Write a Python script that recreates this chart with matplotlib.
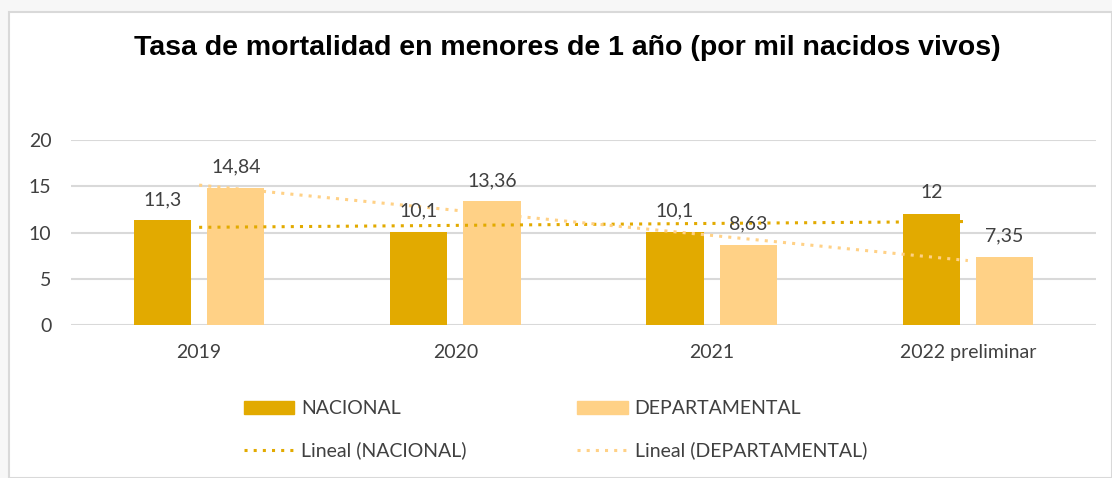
import numpy as np
import matplotlib
matplotlib.use("Agg")
import matplotlib.pyplot as plt
from matplotlib.patches import Rectangle, Patch
from matplotlib.lines import Line2D

categories = ["2019", "2020", "2021", "2022 preliminar"]
nacional = [11.3, 10.1, 10.1, 12]
departamental = [14.84, 13.36, 8.63, 7.35]
nacional_labels = ["11,3", "10,1", "10,1", "12"]
departamental_labels = ["14,84", "13,36", "8,63", "7,35"]
yticks = [0, 5, 10, 15, 20]

C_NAC = "#E2AA00"
C_DEP = "#FFD186"
TXT = "#404040"
FONT = "Lato"
FS = 14

W, H = 1112, 478
fig = plt.figure(figsize=(W / 100, H / 100), dpi=100)
fig.patch.set_facecolor("#F7F7F7")
fig.patches.append(Rectangle((9 / W, 0), 1 - 9 / W, 1 - 12 / H, transform=fig.transFigure,
                             facecolor="white", edgecolor="#D9D9D9", linewidth=1.5, zorder=-5))

ax = fig.add_axes([71 / W, 1 - 325 / H, 1025 / W, 185 / H])
ax.set_zorder(2)
ax.set_facecolor("none")
x = np.arange(len(categories))
bw = 0.223
off = 0.143
ax.bar(x - off, nacional, bw, color=C_NAC, zorder=3)
ax.bar(x + off, departamental, bw, color=C_DEP, zorder=3)

for xi, v, lab in zip(x - off, nacional, nacional_labels):
    ax.annotate(lab, (xi, v), xytext=(0, 9), textcoords="offset points", ha="center", va="bottom",
                fontsize=FS, color=TXT, family=FONT, zorder=5)
for xi, v, lab in zip(x + off, departamental, departamental_labels):
    ax.annotate(lab, (xi, v), xytext=(0, 9), textcoords="offset points", ha="center", va="bottom",
                fontsize=FS, color=TXT, family=FONT, zorder=5)

pn = np.polyfit(x, nacional, 1)
pd_ = np.polyfit(x, departamental, 1)
ax.plot(x, np.polyval(pn, x), linestyle=(0, (1, 2)), color=C_NAC, linewidth=2.2, zorder=4)
ax.plot(x, np.polyval(pd_, x), linestyle=(0, (1, 2)), color=C_DEP, linewidth=2.2, zorder=4)

ax.set_xlim(-0.5, 3.5)
ax.set_ylim(0, 20)
ax.set_yticks(yticks)
ax.set_yticklabels([str(t) for t in yticks], fontsize=FS, color=TXT, family=FONT)
ax.set_xticks(x)
ax.set_xticklabels(categories, fontsize=FS, color=TXT, family=FONT)
ax.tick_params(length=0, pad=14, axis="y")
ax.tick_params(length=0, pad=14, axis="x")
ax.yaxis.grid(True, color="#D9D9D9", linewidth=1.5, zorder=0)
ax.set_axisbelow(True)
for s in ax.spines.values():
    s.set_visible(False)

fig.text(567 / W, 1 - 48 / H, "Tasa de mortalidad en menores de 1 año (por mil nacidos vivos)",
         ha="center", va="center", fontsize=20.5, fontweight="bold", family="Liberation Sans", color="black")

handles = [Patch(color=C_NAC),
           Line2D([], [], linestyle=(0, (1, 2)), color=C_NAC, linewidth=2.2),
           Patch(color=C_DEP),
           Line2D([], [], linestyle=(0, (1, 2)), color=C_DEP, linewidth=2.2)]
labels = ["NACIONAL", "Lineal (NACIONAL)", "DEPARTAMENTAL", "Lineal (DEPARTAMENTAL)"]
leg = fig.legend(handles, labels, ncol=2, loc="center left", bbox_to_anchor=(226 / W, 1 - 430 / H),
                 frameon=False, prop={"family": FONT, "size": FS}, labelcolor=TXT,
                 handlelength=2.6, handleheight=0.7, handletextpad=0.35, columnspacing=5.7,
                 labelspacing=1.25)

fig.savefig("out.png", dpi=100, facecolor=fig.get_facecolor())
